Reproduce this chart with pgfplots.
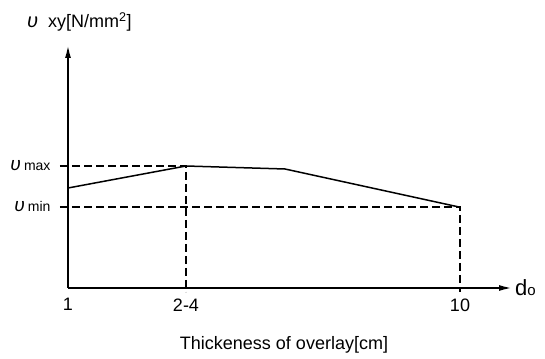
\documentclass[border=0pt]{standalone}
\usepackage{fontspec}
\setmainfont{Liberation Sans}
\usepackage{pgfplots}
\pgfplotsset{compat=1.18}
\usetikzlibrary{arrows.meta}
\begin{document}
\begin{tikzpicture}[x=1pt,y=1pt]
\useasboundingbox (-68,-70) rectangle (477,288);
\begin{axis}[at={(0,0)}, anchor=origin, scale only axis,
  width=444pt, height=243pt,
  xmin=0, xmax=444, ymin=0, ymax=243,
  axis lines=left, clip=false,
  axis line style={line width=1.8pt, -{Latex[length=13pt,width=6pt]}},
  major tick length=0pt,
  xtick={0,118,392}, xticklabels={1,2-4,10},
  ytick={81,122},
  yticklabels={{\fontsize{19}{19}\selectfont\textit{υ}\,\fontsize{14}{14}\selectfont min},{\fontsize{19}{19}\selectfont\textit{υ}\,\fontsize{14}{14}\selectfont max}},
  xticklabel style={font=\fontsize{18}{18}\selectfont, anchor=north, yshift=-7pt},
  yticklabel style={anchor=east, xshift=-14pt},
]
\addplot[black, line width=1.5pt] coordinates {(0,100) (118,122) (217,119) (391,81)};
\addplot[black, line width=1.3pt, dash pattern=on 8pt off 4pt] coordinates {(-8,122) (118,122) (118,-4)};
\addplot[black, line width=1.3pt, dash pattern=on 8pt off 4pt] coordinates {(-8,81) (392,81) (392,-4)};
\node[anchor=west, font=\fontsize{18}{18}\selectfont, inner sep=0pt] at (axis cs:-41,266) {{\fontsize{20}{20}\selectfont\textit{υ}}\hspace{10pt}xy[N/mm\textsuperscript{2}]};
\node[anchor=west, font=\fontsize{22}{22}\selectfont, inner sep=0pt] at (axis cs:447,0) {d{\fontsize{15}{15}\selectfont o}};
\node[anchor=center, font=\fontsize{18}{18}\selectfont] at (axis cs:216,-57) {Thickeness of overlay[cm]};
\end{axis}
\end{tikzpicture}
\end{document}
